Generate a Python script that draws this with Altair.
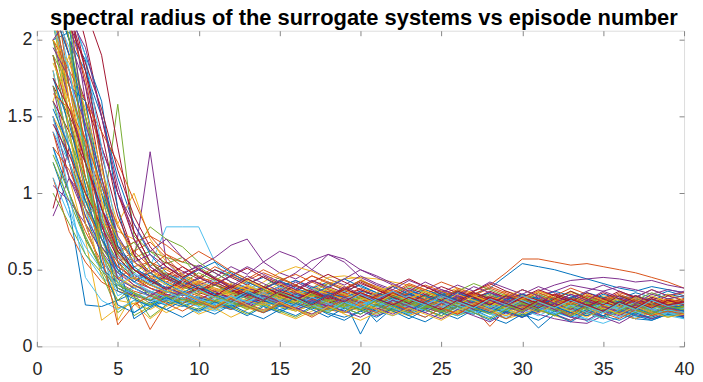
import altair as alt
import pandas as pd

episodes = list(range(1, 41))
palette = ["#0072BD", "#D95319", "#EDB120", "#7E2F8E", "#77AC30", "#4DBEEE", "#A2142F"]
x_ticks = [0, 5, 10, 15, 20, 25, 30, 35, 40]
y_ticks = [0, 0.5, 1, 1.5, 2]
title_text = "spectral radius of the surrogate systems vs episode number"

run_00 = [2.4, 2.1, 1.2, 0.6, 0.38, 0.33, 0.36, 0.31, 0.34, 0.29, 0.33, 0.37, 0.31, 0.28, 0.32, 0.35, 0.30, 0.27, 0.31, 0.29, 0.33, 0.28, 0.26, 0.30, 0.32, 0.27, 0.29, 0.31, 0.26, 0.28, 0.30, 0.27, 0.25, 0.29, 0.31, 0.28, 0.26, 0.29, 0.27, 0.30]
run_01 = [1.8, 1.3, 0.8, 0.5, 0.42, 0.36, 0.33, 0.38, 0.35, 0.31, 0.29, 0.34, 0.36, 0.32, 0.30, 0.28, 0.33, 0.35, 0.31, 0.29, 0.27, 0.32, 0.34, 0.30, 0.28, 0.31, 0.36, 0.40, 0.48, 0.57, 0.57, 0.55, 0.53, 0.54, 0.52, 0.50, 0.48, 0.45, 0.42, 0.38]
run_02 = [2.2, 1.5, 0.9, 0.45, 0.30, 0.28, 0.33, 0.36, 0.31, 0.27, 0.30, 0.33, 0.29, 0.26, 0.30, 0.34, 0.38, 0.45, 0.46, 0.44, 0.38, 0.33, 0.30, 0.28, 0.31, 0.29, 0.27, 0.30, 0.32, 0.28, 0.26, 0.29, 0.31, 0.27, 0.25, 0.28, 0.30, 0.26, 0.28, 0.27]
run_03 = [1.4, 1.1, 0.9, 0.75, 0.62, 0.55, 1.27, 0.55, 0.45, 0.38, 0.36, 0.40, 0.34, 0.31, 0.35, 0.33, 0.30, 0.34, 0.37, 0.32, 0.29, 0.31, 0.34, 0.30, 0.28, 0.31, 0.33, 0.29, 0.27, 0.30, 0.32, 0.28, 0.30, 0.27, 0.29, 0.31, 0.28, 0.26, 0.29, 0.28]
run_04 = [1.6, 1.2, 0.95, 0.8, 1.58, 0.72, 0.62, 0.58, 0.55, 0.52, 0.45, 0.39, 0.36, 0.33, 0.35, 0.31, 0.29, 0.33, 0.30, 0.27, 0.31, 0.29, 0.32, 0.28, 0.26, 0.30, 0.28, 0.25, 0.29, 0.31, 0.27, 0.25, 0.28, 0.30, 0.26, 0.24, 0.27, 0.29, 0.25, 0.27]
run_05 = [1.9, 1.4, 0.9, 0.6, 0.48, 0.44, 0.52, 0.78, 0.78, 0.78, 0.55, 0.41, 0.36, 0.33, 0.30, 0.34, 0.31, 0.28, 0.25, 0.27, 0.30, 0.26, 0.24, 0.28, 0.31, 0.27, 0.25, 0.22, 0.26, 0.29, 0.25, 0.23, 0.27, 0.24, 0.22, 0.26, 0.28, 0.24, 0.22, 0.21]
run_06 = [2.5, 2.2, 1.7, 1.1, 0.7, 0.45, 0.38, 0.34, 0.31, 0.35, 0.32, 0.29, 0.33, 0.30, 0.27, 0.31, 0.34, 0.29, 0.32, 0.35, 0.31, 0.28, 0.30, 0.33, 0.29, 0.27, 0.31, 0.28, 0.30, 0.26, 0.29, 0.27, 0.31, 0.28, 0.25, 0.29, 0.30, 0.27, 0.29, 0.28]
run_07 = [1.2, 0.9, 0.27, 0.26, 0.30, 0.35, 0.28, 0.24, 0.30, 0.33, 0.27, 0.25, 0.30, 0.28, 0.24, 0.27, 0.31, 0.26, 0.23, 0.28, 0.16, 0.25, 0.29, 0.26, 0.22, 0.27, 0.30, 0.25, 0.23, 0.27, 0.24, 0.21, 0.26, 0.29, 0.24, 0.22, 0.25, 0.28, 0.23, 0.26]
run_08 = [2.3, 1.9, 1.3, 0.8, 0.5, 0.40, 0.36, 0.33, 0.37, 0.42, 0.45, 0.40, 0.35, 0.32, 0.36, 0.33, 0.30, 0.34, 0.31, 0.28, 0.32, 0.35, 0.30, 0.27, 0.31, 0.29, 0.33, 0.30, 0.27, 0.25, 0.28, 0.31, 0.27, 0.25, 0.29, 0.26, 0.24, 0.27, 0.30, 0.26]
run_09 = [1.5, 1.1, 0.7, 0.17, 0.25, 0.28, 0.24, 0.30, 0.27, 0.23, 0.26, 0.29, 0.25, 0.22, 0.27, 0.24, 0.21, 0.25, 0.28, 0.24, 0.26, 0.23, 0.20, 0.24, 0.27, 0.23, 0.21, 0.25, 0.22, 0.20, 0.24, 0.26, 0.22, 0.20, 0.23, 0.25, 0.21, 0.19, 0.23, 0.22]
run_10 = [0.85, 1.1, 0.95, 0.7, 0.55, 0.5, 0.46, 0.44, 0.48, 0.52, 0.58, 0.66, 0.70, 0.55, 0.48, 0.44, 0.50, 0.60, 0.55, 0.45, 0.40, 0.36, 0.33, 0.30, 0.34, 0.31, 0.28, 0.32, 0.29, 0.27, 0.30, 0.26, 0.24, 0.27, 0.29, 0.25, 0.23, 0.27, 0.29, 0.26]
run_11 = [2.1, 1.6, 1.1, 0.7, 0.45, 0.20, 0.26, 0.30, 0.34, 0.31, 0.28, 0.32, 0.29, 0.26, 0.30, 0.33, 0.28, 0.25, 0.29, 0.27, 0.24, 0.28, 0.31, 0.27, 0.24, 0.22, 0.26, 0.29, 0.25, 0.23, 0.27, 0.24, 0.22, 0.26, 0.28, 0.24, 0.21, 0.25, 0.27, 0.24]
run_12 = [1.3, 0.9, 0.6, 0.45, 0.38, 0.34, 0.30, 0.33, 0.29, 0.26, 0.30, 0.33, 0.37, 0.32, 0.28, 0.25, 0.29, 0.32, 0.28, 0.25, 0.22, 0.26, 0.29, 0.25, 0.23, 0.27, 0.30, 0.26, 0.23, 0.20, 0.24, 0.27, 0.23, 0.21, 0.25, 0.22, 0.20, 0.18, 0.22, 0.25]
run_13 = [1.7, 1.5, 1.3, 1.0, 0.7, 0.55, 0.48, 0.42, 0.38, 0.41, 0.37, 0.34, 0.38, 0.35, 0.32, 0.36, 0.33, 0.30, 0.34, 0.37, 0.33, 0.30, 0.34, 0.31, 0.28, 0.32, 0.35, 0.31, 0.29, 0.33, 0.30, 0.28, 0.32, 0.29, 0.27, 0.31, 0.33, 0.30, 0.28, 0.31]
run_14 = [2.0, 2.05, 1.87, 1.2, 0.65, 0.45, 0.40, 0.36, 0.33, 0.38, 0.35, 0.31, 0.34, 0.30, 0.27, 0.31, 0.29, 0.33, 0.30, 0.08, 0.28, 0.32, 0.35, 0.31, 0.28, 0.30, 0.34, 0.38, 0.46, 0.54, 0.52, 0.50, 0.47, 0.44, 0.41, 0.38, 0.36, 0.39, 0.37, 0.35]
run_15 = [1.1, 0.75, 0.55, 0.42, 0.36, 0.33, 0.11, 0.28, 0.32, 0.29, 0.26, 0.30, 0.27, 0.24, 0.28, 0.31, 0.27, 0.24, 0.22, 0.26, 0.29, 0.25, 0.22, 0.26, 0.24, 0.21, 0.25, 0.13, 0.24, 0.27, 0.23, 0.21, 0.25, 0.22, 0.20, 0.24, 0.26, 0.22, 0.20, 0.23]
run_16 = [2.6, 2.0, 1.4, 0.9, 0.6, 0.45, 0.40, 0.36, 0.33, 0.37, 0.41, 0.38, 0.35, 0.39, 0.36, 0.33, 0.37, 0.41, 0.44, 0.45, 0.44, 0.42, 0.40, 0.37, 0.34, 0.38, 0.35, 0.32, 0.36, 0.33, 0.30, 0.34, 0.31, 0.29, 0.33, 0.30, 0.28, 0.32, 0.29, 0.31]
run_17 = [1.9, 1.5, 1.0, 0.65, 0.5, 0.42, 0.38, 0.35, 0.39, 0.36, 0.33, 0.37, 0.34, 0.31, 0.35, 0.32, 0.36, 0.33, 0.30, 0.27, 0.31, 0.28, 0.25, 0.29, 0.32, 0.28, 0.26, 0.30, 0.27, 0.24, 0.21, 0.18, 0.16, 0.15, 0.20, 0.24, 0.27, 0.23, 0.26, 0.24]
run_18 = [1.0, 0.8, 0.6, 0.48, 0.22, 0.30, 0.27, 0.33, 0.30, 0.27, 0.31, 0.28, 0.25, 0.29, 0.26, 0.23, 0.27, 0.30, 0.26, 0.24, 0.28, 0.25, 0.22, 0.26, 0.29, 0.25, 0.23, 0.27, 0.24, 0.21, 0.25, 0.28, 0.24, 0.22, 0.25, 0.23, 0.20, 0.24, 0.22, 0.25]
run_19 = [2.3, 1.8, 1.2, 0.7, 0.42, 0.35, 0.31, 0.27, 0.30, 0.26, 0.23, 0.27, 0.30, 0.26, 0.23, 0.26, 0.29, 0.25, 0.22, 0.26, 0.23, 0.20, 0.24, 0.27, 0.23, 0.20, 0.24, 0.21, 0.19, 0.23, 0.26, 0.22, 0.19, 0.22, 0.25, 0.21, 0.19, 0.23, 0.20, 0.18]
run_20 = [2.2, 1.9, 1.6, 1.3, 1.0, 0.75, 0.55, 0.45, 0.40, 0.36, 0.40, 0.37, 0.34, 0.38, 0.42, 0.39, 0.36, 0.33, 0.37, 0.34, 0.31, 0.35, 0.32, 0.29, 0.33, 0.36, 0.32, 0.29, 0.27, 0.31, 0.28, 0.32, 0.29, 0.26, 0.30, 0.27, 0.25, 0.29, 0.26, 0.28]
run_21 = [1.5, 1.2, 0.85, 0.6, 0.45, 0.38, 0.33, 0.29, 0.26, 0.30, 0.27, 0.24, 0.28, 0.31, 0.27, 0.24, 0.28, 0.25, 0.22, 0.26, 0.23, 0.27, 0.30, 0.26, 0.23, 0.27, 0.24, 0.22, 0.26, 0.23, 0.12, 0.21, 0.25, 0.22, 0.20, 0.24, 0.21, 0.19, 0.23, 0.20]
run_22 = [2.4, 1.7, 1.1, 0.75, 0.55, 0.62, 0.68, 0.58, 0.47, 0.42, 0.38, 0.35, 0.39, 0.36, 0.33, 0.37, 0.34, 0.31, 0.35, 0.32, 0.29, 0.33, 0.36, 0.32, 0.29, 0.27, 0.31, 0.28, 0.32, 0.29, 0.26, 0.30, 0.27, 0.31, 0.28, 0.26, 0.30, 0.27, 0.25, 0.28]
run_23 = [1.8, 1.2, 0.8, 0.65, 0.25, 0.28, 0.18, 0.26, 0.30, 0.27, 0.24, 0.28, 0.25, 0.29, 0.26, 0.23, 0.27, 0.30, 0.26, 0.23, 0.27, 0.24, 0.28, 0.25, 0.22, 0.26, 0.29, 0.25, 0.22, 0.26, 0.23, 0.27, 0.24, 0.21, 0.25, 0.28, 0.24, 0.21, 0.25, 0.23]
run_24 = [2.5, 2.3, 1.6, 0.9, 0.55, 0.45, 0.48, 0.52, 0.46, 0.40, 0.44, 0.38, 0.34, 0.38, 0.42, 0.48, 0.56, 0.60, 0.57, 0.50, 0.45, 0.40, 0.36, 0.33, 0.37, 0.34, 0.31, 0.35, 0.32, 0.29, 0.33, 0.36, 0.40, 0.38, 0.36, 0.39, 0.37, 0.34, 0.37, 0.35]
run_25 = [2.3, 2.0, 1.5, 1.0, 0.70, 0.58, 0.62, 0.54, 0.58, 0.45, 0.40, 0.36, 0.33, 0.37, 0.34, 0.31, 0.35, 0.38, 0.34, 0.31, 0.28, 0.32, 0.29, 0.33, 0.30, 0.27, 0.31, 0.34, 0.30, 0.27, 0.25, 0.29, 0.32, 0.28, 0.26, 0.30, 0.27, 0.24, 0.28, 0.26]
run_26 = [1.6, 1.3, 1.0, 0.75, 0.5, 0.22, 0.28, 0.32, 0.29, 0.33, 0.30, 0.27, 0.31, 0.34, 0.30, 0.27, 0.31, 0.28, 0.32, 0.29, 0.26, 0.30, 0.27, 0.24, 0.28, 0.31, 0.27, 0.24, 0.28, 0.25, 0.29, 0.26, 0.23, 0.27, 0.24, 0.22, 0.26, 0.24, 0.21, 0.25]
run_27 = [0.9, 1.3, 1.0, 0.8, 0.62, 0.50, 0.43, 0.38, 0.41, 0.37, 0.33, 0.36, 0.32, 0.29, 0.33, 0.30, 0.34, 0.31, 0.28, 0.32, 0.29, 0.26, 0.30, 0.27, 0.31, 0.28, 0.25, 0.29, 0.26, 0.30, 0.27, 0.24, 0.28, 0.31, 0.27, 0.25, 0.28, 0.31, 0.28, 0.30]
run_28 = [2.2, 1.9, 1.5, 1.0, 0.55, 0.18, 0.25, 0.31, 0.28, 0.32, 0.29, 0.26, 0.30, 0.27, 0.31, 0.35, 0.31, 0.28, 0.25, 0.29, 0.26, 0.30, 0.27, 0.24, 0.28, 0.32, 0.28, 0.25, 0.29, 0.26, 0.23, 0.27, 0.30, 0.26, 0.23, 0.27, 0.24, 0.28, 0.25, 0.27]
run_29 = [1.4, 1.0, 0.75, 0.55, 0.44, 0.52, 0.55, 0.50, 0.44, 0.39, 0.35, 0.32, 0.36, 0.33, 0.30, 0.27, 0.31, 0.28, 0.32, 0.35, 0.31, 0.28, 0.25, 0.29, 0.32, 0.28, 0.25, 0.22, 0.26, 0.29, 0.26, 0.23, 0.27, 0.24, 0.28, 0.25, 0.22, 0.26, 0.29, 0.25]
run_30 = [2.0, 1.7, 1.2, 0.70, 0.45, 0.38, 0.42, 0.37, 0.33, 0.36, 0.32, 0.35, 0.39, 0.35, 0.32, 0.29, 0.33, 0.36, 0.32, 0.29, 0.33, 0.30, 0.27, 0.31, 0.34, 0.30, 0.27, 0.30, 0.34, 0.31, 0.28, 0.32, 0.35, 0.32, 0.29, 0.33, 0.30, 0.27, 0.31, 0.29]
run_31 = [1.7, 1.2, 0.8, 0.5, 0.38, 0.33, 0.30, 0.34, 0.31, 0.28, 0.32, 0.29, 0.26, 0.30, 0.27, 0.24, 0.28, 0.31, 0.27, 0.24, 0.20, 0.24, 0.28, 0.25, 0.22, 0.26, 0.29, 0.25, 0.22, 0.19, 0.23, 0.26, 0.22, 0.20, 0.24, 0.21, 0.18, 0.22, 0.25, 0.21]
run_32 = [1.9, 1.4, 0.95, 0.65, 0.48, 0.62, 0.78, 0.70, 0.65, 0.55, 0.48, 0.42, 0.38, 0.35, 0.39, 0.36, 0.33, 0.37, 0.34, 0.31, 0.35, 0.32, 0.29, 0.33, 0.36, 0.32, 0.29, 0.26, 0.30, 0.27, 0.31, 0.28, 0.25, 0.29, 0.32, 0.28, 0.25, 0.29, 0.27, 0.30]
run_33 = [2.1, 1.7, 1.3, 0.9, 0.6, 0.42, 0.36, 0.32, 0.35, 0.31, 0.28, 0.32, 0.29, 0.33, 0.30, 0.27, 0.31, 0.28, 0.25, 0.29, 0.26, 0.23, 0.27, 0.30, 0.26, 0.23, 0.27, 0.24, 0.21, 0.25, 0.28, 0.24, 0.21, 0.18, 0.15, 0.19, 0.23, 0.20, 0.24, 0.22]
run_34 = [2.4, 2.2, 1.8, 1.4, 0.9, 0.6, 0.45, 0.38, 0.34, 0.31, 0.35, 0.32, 0.36, 0.33, 0.30, 0.34, 0.31, 0.28, 0.32, 0.29, 0.33, 0.30, 0.27, 0.31, 0.28, 0.26, 0.30, 0.27, 0.31, 0.34, 0.30, 0.27, 0.30, 0.27, 0.25, 0.29, 0.32, 0.29, 0.26, 0.29]
run_35 = [1.3, 1.0, 0.7, 0.52, 0.40, 0.34, 0.30, 0.27, 0.31, 0.28, 0.25, 0.29, 0.26, 0.22, 0.26, 0.29, 0.25, 0.22, 0.19, 0.23, 0.27, 0.24, 0.21, 0.25, 0.28, 0.24, 0.21, 0.25, 0.22, 0.19, 0.23, 0.26, 0.22, 0.20, 0.24, 0.21, 0.18, 0.17, 0.21, 0.19]
run_36 = [2.2, 1.6, 1.2, 0.85, 0.62, 0.68, 0.72, 0.66, 0.58, 0.50, 0.44, 0.40, 0.36, 0.33, 0.37, 0.34, 0.31, 0.35, 0.32, 0.29, 0.33, 0.36, 0.32, 0.29, 0.26, 0.30, 0.27, 0.31, 0.28, 0.25, 0.29, 0.32, 0.28, 0.26, 0.30, 0.27, 0.24, 0.28, 0.31, 0.28]
run_37 = [1.5, 1.3, 1.0, 0.8, 0.75, 0.7, 0.50, 0.42, 0.37, 0.33, 0.29, 0.33, 0.30, 0.27, 0.31, 0.28, 0.25, 0.29, 0.32, 0.28, 0.25, 0.22, 0.26, 0.29, 0.25, 0.22, 0.26, 0.23, 0.20, 0.24, 0.27, 0.23, 0.20, 0.23, 0.26, 0.22, 0.20, 0.24, 0.21, 0.23]
run_38 = [2.0, 1.6, 1.2, 0.9, 0.7, 0.55, 0.48, 0.42, 0.47, 0.53, 0.48, 0.42, 0.38, 0.35, 0.39, 0.43, 0.39, 0.35, 0.32, 0.36, 0.33, 0.30, 0.34, 0.31, 0.28, 0.32, 0.35, 0.31, 0.28, 0.32, 0.36, 0.40, 0.43, 0.44, 0.45, 0.44, 0.42, 0.43, 0.40, 0.38]
run_39 = [1.2, 0.95, 0.7, 0.5, 0.40, 0.35, 0.19, 0.27, 0.31, 0.28, 0.25, 0.29, 0.26, 0.23, 0.27, 0.30, 0.26, 0.23, 0.27, 0.24, 0.21, 0.25, 0.22, 0.26, 0.23, 0.20, 0.24, 0.27, 0.23, 0.20, 0.24, 0.21, 0.25, 0.22, 0.19, 0.23, 0.26, 0.22, 0.19, 0.22]
run_40 = [1.8, 1.3, 0.9, 0.6, 0.45, 0.38, 0.33, 0.30, 0.34, 0.31, 0.28, 0.32, 0.29, 0.26, 0.30, 0.33, 0.29, 0.26, 0.30, 0.27, 0.31, 0.28, 0.25, 0.29, 0.26, 0.30, 0.27, 0.24, 0.28, 0.25, 0.22, 0.26, 0.29, 0.25, 0.23, 0.27, 0.24, 0.21, 0.25, 0.23]
run_41 = [1.6, 1.4, 1.2, 0.9, 0.65, 0.5, 0.43, 0.38, 0.34, 0.38, 0.35, 0.31, 0.35, 0.32, 0.29, 0.33, 0.30, 0.27, 0.31, 0.28, 0.32, 0.35, 0.31, 0.28, 0.32, 0.29, 0.26, 0.30, 0.33, 0.30, 0.27, 0.31, 0.28, 0.25, 0.29, 0.26, 0.30, 0.27, 0.24, 0.27]
run_42 = [2.3, 2.0, 1.8, 1.5, 1.1, 0.8, 0.6, 0.48, 0.42, 0.38, 0.35, 0.39, 0.36, 0.33, 0.37, 0.34, 0.31, 0.35, 0.32, 0.36, 0.33, 0.30, 0.34, 0.31, 0.35, 0.32, 0.29, 0.33, 0.30, 0.34, 0.31, 0.28, 0.32, 0.35, 0.32, 0.29, 0.33, 0.30, 0.34, 0.32]
run_43 = [1.9, 1.5, 1.1, 0.8, 0.6, 0.50, 0.44, 0.48, 0.44, 0.40, 0.36, 0.40, 0.37, 0.34, 0.38, 0.35, 0.32, 0.36, 0.33, 0.30, 0.34, 0.37, 0.33, 0.30, 0.27, 0.31, 0.34, 0.30, 0.27, 0.31, 0.28, 0.32, 0.29, 0.26, 0.30, 0.33, 0.29, 0.26, 0.30, 0.27]
run_44 = [2.1, 1.8, 1.4, 1.0, 0.8, 1.0, 0.7, 0.55, 0.47, 0.41, 0.37, 0.33, 0.37, 0.34, 0.31, 0.35, 0.38, 0.34, 0.31, 0.28, 0.32, 0.35, 0.31, 0.28, 0.32, 0.29, 0.26, 0.30, 0.33, 0.29, 0.26, 0.30, 0.27, 0.24, 0.28, 0.31, 0.27, 0.24, 0.28, 0.26]
run_45 = [1.5, 1.1, 0.85, 0.65, 0.52, 0.45, 0.40, 0.36, 0.33, 0.37, 0.34, 0.30, 0.34, 0.31, 0.28, 0.32, 0.29, 0.26, 0.30, 0.33, 0.29, 0.26, 0.23, 0.27, 0.30, 0.26, 0.23, 0.27, 0.31, 0.27, 0.24, 0.28, 0.25, 0.22, 0.26, 0.23, 0.27, 0.24, 0.21, 0.20]
run_46 = [2.0, 1.5, 1.05, 0.75, 0.55, 0.45, 0.40, 0.44, 0.40, 0.36, 0.32, 0.36, 0.33, 0.30, 0.34, 0.31, 0.27, 0.31, 0.28, 0.32, 0.29, 0.26, 0.30, 0.27, 0.24, 0.28, 0.31, 0.27, 0.24, 0.28, 0.25, 0.29, 0.26, 0.23, 0.27, 0.24, 0.28, 0.25, 0.22, 0.26]
run_47 = [1.4, 1.2, 0.9, 0.7, 0.56, 0.48, 0.42, 0.38, 0.34, 0.30, 0.34, 0.31, 0.35, 0.32, 0.29, 0.33, 0.30, 0.27, 0.31, 0.34, 0.30, 0.27, 0.24, 0.28, 0.25, 0.29, 0.26, 0.23, 0.27, 0.30, 0.26, 0.23, 0.27, 0.24, 0.28, 0.25, 0.22, 0.26, 0.23, 0.25]
run_48 = [2.6, 2.4, 2.0, 1.5, 1.0, 0.7, 0.52, 0.44, 0.40, 0.36, 0.40, 0.36, 0.33, 0.37, 0.34, 0.31, 0.35, 0.32, 0.29, 0.33, 0.30, 0.34, 0.31, 0.28, 0.32, 0.29, 0.33, 0.30, 0.27, 0.31, 0.28, 0.32, 0.29, 0.33, 0.30, 0.27, 0.31, 0.28, 0.30, 0.29]
run_49 = [2.3, 2.2, 1.9, 1.6, 0.9, 0.5, 0.42, 0.47, 0.40, 0.44, 0.50, 0.46, 0.41, 0.45, 0.39, 0.43, 0.38, 0.42, 0.36, 0.40, 0.35, 0.39, 0.34, 0.37, 0.33, 0.36, 0.32, 0.35, 0.30, 0.34, 0.31, 0.36, 0.33, 0.29, 0.34, 0.31, 0.35, 0.32, 0.36, 0.33]
run_50 = [2.5, 2.1, 1.75, 1.2, 0.55, 0.42, 0.50, 0.44, 0.38, 0.45, 0.52, 0.47, 0.43, 0.48, 0.44, 0.40, 0.46, 0.42, 0.38, 0.43, 0.39, 0.35, 0.41, 0.37, 0.42, 0.38, 0.34, 0.39, 0.35, 0.31, 0.36, 0.33, 0.38, 0.34, 0.30, 0.35, 0.32, 0.37, 0.33, 0.35]
run_51 = [1.6, 1.9, 1.5, 0.95, 0.17, 0.35, 0.28, 0.22, 0.27, 0.21, 0.25, 0.19, 0.24, 0.28, 0.22, 0.18, 0.23, 0.27, 0.21, 0.17, 0.22, 0.26, 0.20, 0.24, 0.19, 0.23, 0.27, 0.22, 0.18, 0.21, 0.25, 0.20, 0.17, 0.22, 0.26, 0.21, 0.18, 0.23, 0.20, 0.22]
run_52 = [2.4, 2.0, 1.7, 1.3, 1.0, 0.8, 0.62, 0.70, 0.58, 0.50, 0.45, 0.52, 0.47, 0.55, 0.62, 0.58, 0.50, 0.44, 0.40, 0.46, 0.41, 0.37, 0.43, 0.39, 0.35, 0.40, 0.36, 0.42, 0.38, 0.34, 0.39, 0.35, 0.31, 0.36, 0.40, 0.36, 0.32, 0.37, 0.33, 0.36]
run_53 = [1.9, 1.7, 1.3, 0.5, 0.30, 0.40, 0.34, 0.29, 0.35, 0.30, 0.26, 0.31, 0.36, 0.31, 0.27, 0.32, 0.28, 0.24, 0.29, 0.33, 0.28, 0.24, 0.30, 0.26, 0.22, 0.27, 0.31, 0.26, 0.23, 0.28, 0.24, 0.20, 0.25, 0.29, 0.24, 0.21, 0.26, 0.22, 0.25, 0.23]
run_54 = [2.2, 1.95, 1.45, 0.85, 0.45, 0.58, 0.48, 0.40, 0.46, 0.38, 0.43, 0.36, 0.41, 0.35, 0.39, 0.33, 0.38, 0.32, 0.36, 0.30, 0.34, 0.29, 0.33, 0.28, 0.31, 0.27, 0.30, 0.25, 0.29, 0.24, 0.28, 0.23, 0.27, 0.16, 0.22, 0.26, 0.21, 0.25, 0.20, 0.24]
run_55 = [2.1, 2.3, 1.8, 1.25, 0.85, 0.6, 0.48, 0.55, 0.49, 0.44, 0.50, 0.45, 0.40, 0.46, 0.41, 0.37, 0.43, 0.39, 0.35, 0.41, 0.37, 0.33, 0.38, 0.34, 0.39, 0.35, 0.31, 0.36, 0.32, 0.37, 0.33, 0.29, 0.34, 0.30, 0.35, 0.31, 0.27, 0.32, 0.29, 0.31]
run_56 = [1.75, 1.45, 1.05, 0.55, 0.27, 0.22, 0.29, 0.24, 0.19, 0.25, 0.21, 0.27, 0.22, 0.18, 0.24, 0.20, 0.26, 0.21, 0.17, 0.23, 0.19, 0.25, 0.20, 0.16, 0.22, 0.18, 0.24, 0.19, 0.15, 0.21, 0.17, 0.23, 0.19, 0.24, 0.20, 0.17, 0.22, 0.18, 0.21, 0.19]
run_57 = [2.0, 1.8, 1.6, 1.4, 1.2, 0.95, 0.72, 0.60, 0.52, 0.46, 0.41, 0.46, 0.42, 0.38, 0.43, 0.47, 0.42, 0.37, 0.33, 0.38, 0.34, 0.30, 0.35, 0.40, 0.36, 0.32, 0.28, 0.33, 0.29, 0.25, 0.30, 0.34, 0.30, 0.26, 0.31, 0.27, 0.32, 0.28, 0.25, 0.29]
run_58 = [2.3, 1.6, 1.0, 0.6, 0.45, 0.39, 0.45, 0.51, 0.46, 0.40, 0.35, 0.41, 0.37, 0.42, 0.48, 0.52, 0.49, 0.44, 0.39, 0.34, 0.39, 0.35, 0.31, 0.36, 0.32, 0.37, 0.33, 0.29, 0.34, 0.30, 0.35, 0.31, 0.27, 0.32, 0.28, 0.33, 0.29, 0.26, 0.31, 0.28]
run_59 = [1.05, 0.95, 0.8, 0.62, 0.48, 0.40, 0.35, 0.30, 0.36, 0.31, 0.26, 0.32, 0.28, 0.23, 0.29, 0.25, 0.21, 0.27, 0.23, 0.19, 0.25, 0.21, 0.26, 0.22, 0.18, 0.24, 0.20, 0.16, 0.22, 0.19, 0.25, 0.21, 0.17, 0.23, 0.19, 0.15, 0.21, 0.18, 0.22, 0.19]
run_60 = [2.4, 2.1, 1.5, 1.1, 0.62, 0.48, 0.55, 0.47, 0.41, 0.48, 0.43, 0.49, 0.44, 0.39, 0.45, 0.40, 0.35, 0.41, 0.37, 0.43, 0.38, 0.34, 0.39, 0.35, 0.31, 0.36, 0.41, 0.37, 0.33, 0.29, 0.34, 0.30, 0.36, 0.32, 0.28, 0.33, 0.30, 0.35, 0.31, 0.33]
run_61 = [1.5, 1.0, 0.45, 0.30, 0.24, 0.30, 0.26, 0.31, 0.27, 0.22, 0.28, 0.33, 0.27, 0.23, 0.29, 0.24, 0.20, 0.26, 0.31, 0.26, 0.22, 0.27, 0.23, 0.19, 0.25, 0.20, 0.26, 0.22, 0.18, 0.24, 0.20, 0.25, 0.21, 0.17, 0.23, 0.19, 0.24, 0.20, 0.22, 0.18]
run_62 = [2.5, 2.4, 2.2, 1.9, 1.3, 0.75, 0.55, 0.46, 0.52, 0.45, 0.40, 0.46, 0.51, 0.45, 0.40, 0.36, 0.42, 0.47, 0.42, 0.37, 0.33, 0.39, 0.44, 0.39, 0.34, 0.30, 0.36, 0.41, 0.36, 0.32, 0.37, 0.33, 0.29, 0.35, 0.31, 0.36, 0.32, 0.28, 0.33, 0.30]
run_63 = [2.2, 1.7, 1.6, 1.05, 0.66, 0.52, 0.44, 0.38, 0.44, 0.50, 0.55, 0.48, 0.42, 0.37, 0.43, 0.38, 0.34, 0.39, 0.44, 0.39, 0.35, 0.31, 0.37, 0.33, 0.29, 0.35, 0.31, 0.27, 0.33, 0.29, 0.26, 0.32, 0.28, 0.25, 0.30, 0.27, 0.32, 0.28, 0.24, 0.27]
run_64 = [1.3, 1.15, 0.9, 0.7, 0.52, 0.44, 0.38, 0.33, 0.28, 0.34, 0.29, 0.24, 0.30, 0.35, 0.29, 0.25, 0.31, 0.26, 0.22, 0.28, 0.33, 0.28, 0.24, 0.30, 0.25, 0.21, 0.27, 0.32, 0.27, 0.23, 0.29, 0.24, 0.20, 0.26, 0.22, 0.28, 0.24, 0.20, 0.25, 0.22]
run_65 = [2.0, 1.85, 1.55, 1.15, 0.8, 0.58, 0.48, 0.42, 0.37, 0.43, 0.38, 0.34, 0.40, 0.35, 0.41, 0.36, 0.32, 0.38, 0.34, 0.30, 0.35, 0.40, 0.36, 0.31, 0.28, 0.34, 0.30, 0.26, 0.32, 0.37, 0.33, 0.29, 0.25, 0.31, 0.27, 0.24, 0.29, 0.33, 0.29, 0.27]
run_66 = [2.6, 2.2, 1.4, 0.8, 0.44, 0.38, 0.33, 0.39, 0.34, 0.30, 0.36, 0.31, 0.27, 0.33, 0.29, 0.35, 0.30, 0.26, 0.32, 0.28, 0.24, 0.30, 0.26, 0.22, 0.28, 0.33, 0.28, 0.24, 0.30, 0.26, 0.22, 0.28, 0.24, 0.30, 0.26, 0.22, 0.27, 0.31, 0.27, 0.29]
run_67 = [1.7, 1.35, 1.1, 0.82, 0.6, 0.68, 0.55, 0.45, 0.39, 0.34, 0.40, 0.35, 0.31, 0.37, 0.32, 0.28, 0.34, 0.30, 0.26, 0.32, 0.28, 0.33, 0.29, 0.25, 0.31, 0.27, 0.23, 0.29, 0.25, 0.31, 0.27, 0.23, 0.28, 0.24, 0.30, 0.26, 0.22, 0.27, 0.24, 0.26]
run_68 = [2.4, 2.2, 1.9, 1.3, 0.7, 0.42, 0.35, 0.41, 0.36, 0.31, 0.27, 0.33, 0.29, 0.35, 0.30, 0.26, 0.32, 0.28, 0.24, 0.30, 0.26, 0.31, 0.27, 0.23, 0.29, 0.25, 0.21, 0.27, 0.23, 0.29, 0.25, 0.21, 0.26, 0.22, 0.28, 0.24, 0.20, 0.25, 0.21, 0.23]
run_69 = [1.45, 1.25, 1.0, 0.78, 0.58, 0.47, 0.40, 0.46, 0.41, 0.36, 0.42, 0.37, 0.33, 0.39, 0.34, 0.30, 0.36, 0.32, 0.38, 0.33, 0.29, 0.35, 0.31, 0.27, 0.33, 0.29, 0.35, 0.31, 0.27, 0.32, 0.28, 0.34, 0.30, 0.26, 0.31, 0.27, 0.33, 0.29, 0.26, 0.28]
run_70 = [2.3, 2.0, 1.4, 0.75, 0.36, 0.31, 0.26, 0.32, 0.27, 0.23, 0.29, 0.25, 0.20, 0.26, 0.22, 0.28, 0.24, 0.19, 0.25, 0.21, 0.27, 0.23, 0.18, 0.24, 0.20, 0.26, 0.22, 0.17, 0.23, 0.19, 0.25, 0.21, 0.16, 0.22, 0.18, 0.24, 0.20, 0.17, 0.21, 0.19]
run_71 = [1.65, 1.55, 1.35, 1.05, 0.78, 0.62, 0.52, 0.60, 0.55, 0.62, 0.56, 0.49, 0.44, 0.50, 0.45, 0.40, 0.46, 0.41, 0.37, 0.43, 0.38, 0.34, 0.40, 0.36, 0.32, 0.37, 0.33, 0.38, 0.34, 0.30, 0.35, 0.31, 0.27, 0.33, 0.29, 0.34, 0.30, 0.26, 0.31, 0.28]
run_72 = [2.2, 1.4, 0.8, 0.5, 0.40, 0.45, 0.40, 0.35, 0.41, 0.36, 0.32, 0.37, 0.43, 0.38, 0.33, 0.29, 0.35, 0.31, 0.37, 0.32, 0.28, 0.34, 0.30, 0.36, 0.31, 0.27, 0.33, 0.29, 0.25, 0.31, 0.36, 0.32, 0.28, 0.34, 0.30, 0.26, 0.32, 0.28, 0.34, 0.30]
run_73 = [1.95, 1.75, 1.45, 1.1, 0.72, 0.55, 0.60, 0.52, 0.45, 0.50, 0.44, 0.39, 0.46, 0.41, 0.36, 0.42, 0.37, 0.32, 0.39, 0.34, 0.30, 0.36, 0.31, 0.27, 0.33, 0.29, 0.24, 0.30, 0.26, 0.22, 0.28, 0.24, 0.19, 0.17, 0.23, 0.20, 0.26, 0.22, 0.25, 0.23]
run_74 = [1.25, 1.0, 0.72, 0.5, 0.38, 0.32, 0.27, 0.33, 0.28, 0.24, 0.30, 0.26, 0.21, 0.27, 0.23, 0.19, 0.25, 0.30, 0.25, 0.21, 0.27, 0.23, 0.28, 0.24, 0.20, 0.26, 0.22, 0.18, 0.24, 0.29, 0.24, 0.20, 0.26, 0.22, 0.18, 0.23, 0.28, 0.23, 0.20, 0.22]
run_75 = [2.1, 1.8, 1.25, 0.6, 0.33, 0.38, 0.32, 0.27, 0.34, 0.29, 0.24, 0.30, 0.36, 0.31, 0.26, 0.32, 0.27, 0.23, 0.29, 0.34, 0.29, 0.25, 0.21, 0.27, 0.32, 0.27, 0.23, 0.19, 0.25, 0.30, 0.25, 0.21, 0.27, 0.22, 0.18, 0.24, 0.29, 0.24, 0.20, 0.22]
run_76 = [2.3, 2.1, 1.85, 1.55, 1.15, 0.85, 0.65, 0.52, 0.45, 0.51, 0.44, 0.38, 0.44, 0.39, 0.34, 0.40, 0.35, 0.31, 0.37, 0.42, 0.37, 0.32, 0.28, 0.34, 0.30, 0.36, 0.32, 0.27, 0.33, 0.29, 0.25, 0.31, 0.36, 0.31, 0.27, 0.33, 0.29, 0.25, 0.30, 0.27]
run_77 = [1.55, 1.3, 0.95, 0.7, 0.5, 0.42, 0.48, 0.41, 0.35, 0.40, 0.34, 0.29, 0.35, 0.30, 0.26, 0.32, 0.28, 0.34, 0.29, 0.25, 0.31, 0.27, 0.23, 0.29, 0.34, 0.30, 0.26, 0.22, 0.28, 0.24, 0.30, 0.26, 0.22, 0.27, 0.23, 0.29, 0.25, 0.21, 0.26, 0.23]
run_78 = [2.2, 1.7, 1.35, 0.6, 0.14, 0.27, 0.33, 0.28, 0.23, 0.29, 0.25, 0.31, 0.26, 0.22, 0.28, 0.24, 0.19, 0.25, 0.31, 0.26, 0.22, 0.28, 0.23, 0.19, 0.25, 0.21, 0.27, 0.23, 0.18, 0.24, 0.30, 0.25, 0.21, 0.27, 0.22, 0.18, 0.24, 0.20, 0.23, 0.21]
run_79 = [1.85, 1.6, 1.25, 0.95, 0.7, 0.55, 0.46, 0.40, 0.35, 0.30, 0.26, 0.32, 0.27, 0.23, 0.29, 0.24, 0.20, 0.26, 0.22, 0.28, 0.24, 0.20, 0.25, 0.21, 0.17, 0.23, 0.28, 0.24, 0.20, 0.26, 0.22, 0.27, 0.23, 0.19, 0.25, 0.21, 0.26, 0.22, 0.19, 0.21]
run_80 = [2.0, 2.15, 1.95, 1.5, 1.05, 0.7, 0.52, 0.45, 0.39, 0.45, 0.40, 0.46, 0.52, 0.47, 0.42, 0.37, 0.43, 0.38, 0.44, 0.50, 0.46, 0.41, 0.36, 0.42, 0.37, 0.33, 0.39, 0.35, 0.31, 0.37, 0.33, 0.28, 0.34, 0.30, 0.36, 0.32, 0.28, 0.34, 0.31, 0.33]
run_81 = [2.5, 2.0, 1.2, 0.62, 0.41, 0.35, 0.30, 0.36, 0.31, 0.27, 0.33, 0.29, 0.24, 0.30, 0.35, 0.31, 0.26, 0.22, 0.28, 0.24, 0.30, 0.26, 0.31, 0.27, 0.23, 0.29, 0.25, 0.21, 0.27, 0.23, 0.29, 0.25, 0.20, 0.26, 0.22, 0.28, 0.24, 0.21, 0.26, 0.24]
run_82 = [1.1, 0.85, 0.65, 0.5, 0.40, 0.47, 0.41, 0.36, 0.31, 0.37, 0.32, 0.28, 0.34, 0.30, 0.36, 0.31, 0.27, 0.33, 0.29, 0.25, 0.31, 0.36, 0.31, 0.27, 0.33, 0.29, 0.25, 0.31, 0.27, 0.33, 0.29, 0.25, 0.30, 0.26, 0.22, 0.28, 0.24, 0.30, 0.26, 0.28]
run_83 = [1.75, 1.55, 1.2, 0.9, 0.62, 0.5, 0.43, 0.37, 0.43, 0.38, 0.33, 0.39, 0.34, 0.30, 0.36, 0.32, 0.27, 0.33, 0.29, 0.35, 0.31, 0.27, 0.32, 0.28, 0.24, 0.30, 0.26, 0.32, 0.28, 0.24, 0.30, 0.26, 0.31, 0.27, 0.23, 0.29, 0.25, 0.31, 0.27, 0.29]

runs = [run_00, run_01, run_02, run_03, run_04, run_05, run_06, run_07, run_08, run_09,
        run_10, run_11, run_12, run_13, run_14, run_15, run_16, run_17, run_18, run_19,
        run_20, run_21, run_22, run_23, run_24, run_25, run_26, run_27, run_28, run_29,
        run_30, run_31, run_32, run_33, run_34, run_35, run_36, run_37, run_38, run_39,
        run_40, run_41, run_42, run_43, run_44, run_45, run_46, run_47, run_48, run_49,
        run_50, run_51, run_52, run_53, run_54, run_55, run_56, run_57, run_58, run_59,
        run_60, run_61, run_62, run_63, run_64, run_65, run_66, run_67, run_68, run_69,
        run_70, run_71, run_72, run_73, run_74, run_75, run_76, run_77, run_78, run_79,
        run_80, run_81, run_82, run_83]

rows = []
names = []
for i, r in enumerate(runs):
    name = f"r{i:02d}"
    names.append(name)
    for ep, v in zip(episodes, r):
        rows.append({"run": name, "episode": ep, "rho": v})
df = pd.DataFrame(rows)
colors = [palette[i % len(palette)] for i in range(len(names))]

FRAME = "#868686"
LABEL = "#262626"
FONT = "Liberation Sans"
W, H = 650, 317

x_scale = alt.Scale(domain=[0, 40], nice=False, zero=False)
y_scale = alt.Scale(domain=[0, 2.06], nice=False, zero=False)

lines = alt.Chart(df).mark_line(strokeWidth=1, clip=True).encode(
    x=alt.X("episode:Q", scale=x_scale,
            axis=alt.Axis(orient="bottom", values=x_ticks, title=None, grid=False,
                          domain=False, offset=-5, tickSize=5, tickColor=FRAME,
                          labelPadding=14, labelFontSize=18, labelColor=LABEL,
                          labelFont=FONT, labelFlush=False)),
    y=alt.Y("rho:Q", scale=y_scale,
            axis=alt.Axis(orient="left", values=y_ticks, title=None, grid=False,
                          domain=False, offset=-5, tickSize=5, tickColor=FRAME,
                          labelPadding=5, labelFontSize=18, labelColor=LABEL,
                          labelFont=FONT, format="~g", labelFlush=False)),
    color=alt.Color("run:N", scale=alt.Scale(domain=names, range=colors), legend=None),
    order=alt.Order("episode:Q"),
    detail="run:N",
)

frame_axes = alt.Chart(df).mark_line(opacity=0, clip=True).encode(
    x=alt.X("episode:Q", scale=x_scale,
            axis=alt.Axis(orient="top", values=x_ticks, title=None, grid=False,
                          domain=False, offset=-5, tickSize=5, tickColor=FRAME,
                          labels=False)),
    y=alt.Y("rho:Q", scale=y_scale,
            axis=alt.Axis(orient="right", values=y_ticks, title=None, grid=False,
                          domain=False, offset=-5, tickSize=5, tickColor=FRAME,
                          labels=False)),
    detail="run:N",
)

title_df = pd.DataFrame({"label": [title_text]})
title_mark = alt.Chart(title_df).mark_text(
    font=FONT, fontSize=22, fontWeight="bold", color="#000000",
    align="center", baseline="alphabetic", clip=False,
).encode(
    text="label:N",
    x=alt.value(W / 2 + 3.5),
    y=alt.value(-6),
)

chart = alt.layer(lines, frame_axes, title_mark).resolve_axis(
    x="independent", y="independent"
).properties(
    width=W,
    height=H,
    autosize=alt.AutoSizeParams(type="none"),
    padding={"left": 29, "top": 22, "right": 11, "bottom": 35},
).configure_view(stroke=FRAME, strokeWidth=1).configure(background="white")

chart.save("out.html", embed_options={"renderer": "svg", "actions": False})
